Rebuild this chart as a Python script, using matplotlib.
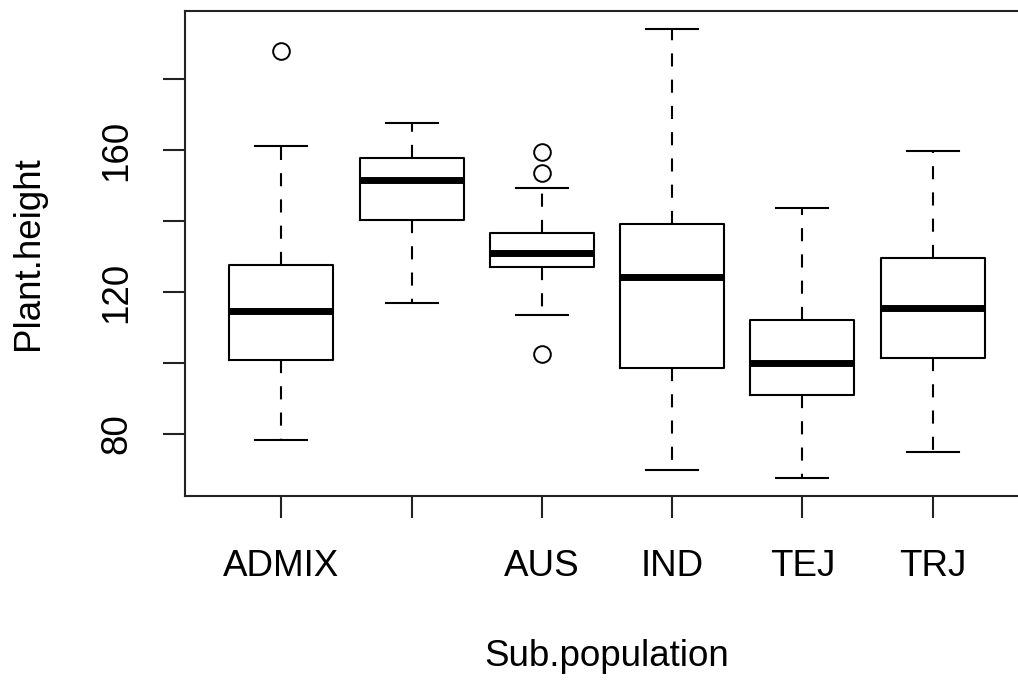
import matplotlib
matplotlib.use("Agg")
import matplotlib.pyplot as plt

# values
groups = ["ADMIX", "", "AUS", "IND", "TEJ", "TRJ"]
whisker_low = [78.2, 116.9, 113.5, 69.7, 67.5, 74.8]
box_low = [100.8, 140.3, 127.1, 98.5, 90.9, 101.4]
medians = [114.6, 151.6, 131.0, 124.2, 100.0, 115.5]
box_high = [127.6, 157.9, 136.7, 139.2, 112.1, 129.6]
whisker_high = [161.2, 167.7, 149.4, 194.3, 143.7, 159.8]
outliers = [[188.0], [], [159.5, 153.6, 102.5], [], [], []]

y_ticks = [80, 100, 120, 140, 160, 180]
y_ticklabels = ["80", "", "120", "", "160", ""]

plt.rcParams['font.family'] = ['Liberation Sans', 'DejaVu Sans']

fig = plt.figure(figsize=(10.18, 6.83), dpi=100)
# right edge of the plot frame lies outside the picture, as in the reference
ax = fig.add_axes([185 / 1018, 1 - 496 / 683, (1029 - 185) / 1018, (496 - 11) / 683])

stats = []
for i in range(len(groups)):
    stats.append({
        "whislo": whisker_low[i], "q1": box_low[i], "med": medians[i],
        "q3": box_high[i], "whishi": whisker_high[i], "fliers": outliers[i],
    })

lw = 1.5
ax.bxp(stats, positions=range(1, len(groups) + 1), widths=0.8,
       showfliers=True,
       boxprops=dict(color="black", linewidth=lw),
       medianprops=dict(color="black", linewidth=5, solid_capstyle="butt"),
       whiskerprops=dict(color="black", linewidth=lw, linestyle=(0, (6.3, 6.3))),
       capprops=dict(color="black", linewidth=lw),
       capwidths=0.4,
       flierprops=dict(marker="o", markerfacecolor="none", markeredgecolor="black",
                       markersize=12, markeredgewidth=1.4))

ax.set_xlim(0.26, 6.74)
ax.set_ylim(62.5, 199.3)

ax.set_xticks(range(1, len(groups) + 1))
ax.set_xticklabels(groups, fontsize=26.5)
ax.set_yticks(y_ticks)
ax.set_yticklabels(y_ticklabels, fontsize=26.5, rotation=90, va="center")

ax.tick_params(axis="both", length=15.8, width=lw, color="#222222", direction="out")
ax.tick_params(axis="x", pad=22.5)
ax.tick_params(axis="y", pad=21)

for s in ax.spines.values():
    s.set_linewidth(lw)
    s.set_color("#222222")

fig.text(29 / 1018, 1 - 253 / 683, "Plant.height", fontsize=26.5,
         rotation=90, ha="center", va="center")
fig.text(607 / 1018, 1 - 657 / 683, "Sub.population", fontsize=26.5,
         ha="center", va="center")

fig.savefig("out.png", dpi=100)
